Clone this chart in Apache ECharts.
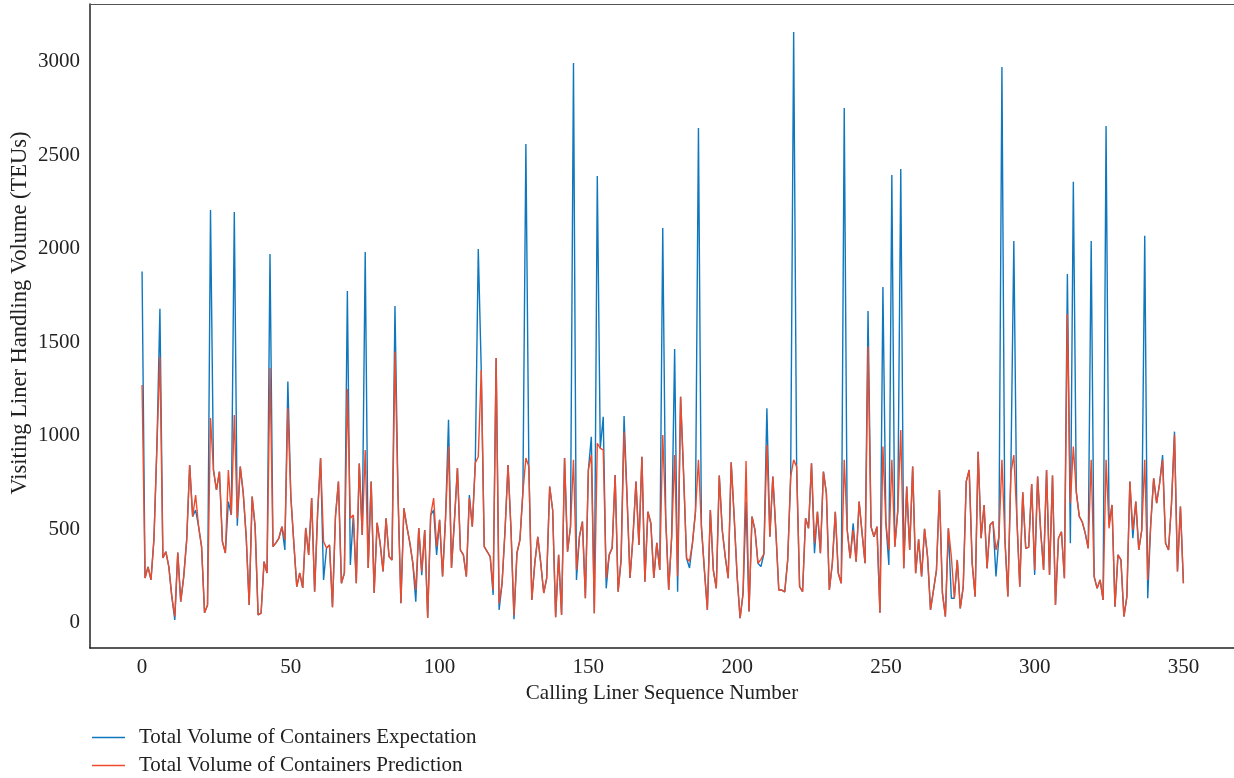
<!DOCTYPE html>
<html>
<head>
<meta charset="utf-8">
<script src="https://cdn.jsdelivr.net/npm/echarts/dist/echarts.min.js"></script>
<style>
html,body{margin:0;padding:0;background:#fff;}
#chart{width:1234px;height:778px;}
</style>
</head>
<body>
<div id="chart"></div>
<script>
var seriesNames = ['Total Volume of Containers Expectation', 'Total Volume of Containers Prediction'];
var xTicks = [0, 50, 100, 150, 200, 250, 300, 350];
var yTicks = [0, 500, 1000, 1500, 2000, 2500, 3000];

var expectation = [
1880,240,300,230,450,950,1680,347,381,300,
141,16,376,114,248,444,845,569,604,515,
408,55,96,2208,818,711,809,435,374,649,
577,2198,520,836,695,461,96,676,515,43,
52,328,267,1973,408,428,454,515,390,1291,
676,428,194,267,187,508,364,668,167,588,
882,230,401,417,84,569,756,212,267,1775,
310,577,212,853,470,1984,294,756,160,535,
428,275,560,355,337,1695,700,105,613,515,
428,320,114,508,255,497,27,577,604,364,
551,248,560,1086,294,551,829,390,364,248,
684,515,855,2000,1353,408,381,355,150,1417,
70,212,497,845,500,20,374,444,700,2561,
836,123,320,461,320,160,240,729,604,30,
364,43,882,381,515,2995,230,461,542,132,
818,996,52,2390,934,1103,185,364,401,791,
167,337,1107,676,240,461,756,417,889,221,
595,533,240,428,283,2112,560,176,461,1465,
167,1210,800,346,294,428,595,2647,515,283,
70,604,283,185,788,497,355,239,859,569,
248,25,159,649,61,569,497,319,301,370,
1148,461,783,497,176,176,166,337,783,3160,
836,194,167,560,506,854,373,595,373,809,
694,176,319,595,266,212,2754,497,346,533,
328,649,480,319,1668,515,461,515,55,1797,
533,310,2396,408,600,2428,292,729,390,836,
266,447,248,503,355,70,176,283,711,159,
34,506,132,132,337,78,194,756,818,319,
141,916,453,631,292,524,542,248,461,2973,
450,141,800,2043,569,194,699,399,406,743,
257,783,497,283,818,257,788,96,453,488,
239,1866,426,2360,700,570,540,480,399,2043,
248,185,230,123,2658,530,631,87,364,337,
34,141,756,453,649,390,497,2070,132,524,
774,640,747,898,426,390,640,1023,275,622,
212
];

var prediction = [
1273,240,300,230,450,950,1424,347,381,300,
141,35,376,114,248,444,845,569,684,515,
408,55,96,1096,818,711,809,435,374,818,
577,1112,560,836,695,461,96,676,515,43,
52,328,267,1363,408,428,454,515,444,1148,
676,428,194,267,187,508,364,668,167,588,
882,435,401,417,84,569,756,212,267,1251,
560,577,212,853,470,925,294,756,160,535,
428,275,560,355,337,1451,700,105,613,515,
428,320,176,508,275,497,27,577,668,408,
551,248,560,943,294,551,829,390,364,248,
668,515,855,889,1353,408,381,355,176,1417,
105,212,497,845,500,40,374,444,700,882,
836,123,320,461,320,160,240,729,604,30,
364,43,882,381,515,872,283,461,542,132,
818,898,52,961,934,925,240,364,401,791,
167,337,1023,676,240,461,756,417,889,221,
595,533,240,428,283,1005,560,176,461,898,
248,1210,800,346,330,428,595,872,515,283,
70,604,283,185,788,497,355,239,859,569,
248,25,159,866,61,569,497,319,340,370,
952,461,783,497,176,176,166,337,783,872,
836,194,167,560,506,854,426,595,373,809,
694,176,319,595,266,212,872,497,346,497,
328,649,480,319,1478,515,461,515,55,943,
533,390,872,408,600,1032,292,729,390,836,
266,447,248,503,355,70,176,283,711,159,
34,506,355,132,337,78,194,756,818,319,
141,916,453,631,292,524,542,390,461,872,
450,141,800,898,569,194,699,399,406,743,
283,783,497,283,818,257,788,96,453,488,
239,1652,640,943,700,570,540,480,399,872,
248,185,230,123,872,506,631,87,364,337,
34,141,756,497,649,390,497,872,230,524,
774,640,747,872,426,390,640,1005,275,622,
212
];

function toPairs(arr) {
  return arr.map(function (v, i) { return [i, v]; });
}

var FONT = 'Liberation Serif';
var TXT = '#222';
var BLUE = '#0f77bd';
var RED = '#ef4b2b';
var plain = function (v) { return String(v); };

function legendAt(name, top) {
  return {
    orient: 'vertical', left: 87, top: top, padding: 5,
    icon: 'rect', itemWidth: 33, itemHeight: 1.5,
    textStyle: {fontFamily: FONT, fontSize: 21, color: TXT, padding: [0, 0, 0, 9]},
    data: [name]
  };
}

var chart = echarts.init(document.getElementById('chart'), null, {renderer: 'canvas'});
chart.setOption({
  animation: false,
  backgroundColor: '#fff',
  grid: {left: 90, top: 4, right: 0, bottom: 130, outerBoundsMode: 'none', containLabel: false},
  legend: [legendAt(seriesNames[0], 722), legendAt(seriesNames[1], 750)],
  xAxis: [{
    type: 'value', min: -17.5, max: 367, position: 'bottom',
    name: 'Calling Liner Sequence Number', nameLocation: 'middle', nameGap: 35,
    nameTextStyle: {fontFamily: FONT, fontSize: 21, color: TXT},
    axisLine: {show: true, onZero: false, lineStyle: {color: '#222', width: 1.5}},
    axisTick: {show: false},
    splitLine: {show: false},
    axisLabel: {customValues: xTicks, formatter: plain, fontFamily: FONT, fontSize: 21, color: TXT, margin: 9}
  }, {
    type: 'value', min: -17.5, max: 367, position: 'top',
    axisLine: {show: true, onZero: false, lineStyle: {color: '#555', width: 1.2}},
    axisTick: {show: false}, axisLabel: {show: false}, splitLine: {show: false}
  }],
  yAxis: {
    type: 'value', min: -134, max: 3310,
    name: 'Visiting Liner Handling Volume (TEUs)', nameLocation: 'middle', nameGap: 58,
    nameMoveOverlap: false,
    nameTextStyle: {fontFamily: FONT, fontSize: 22.5, color: TXT, padding: [0, 0, 0, 26]},
    axisLine: {show: true, onZero: false, lineStyle: {color: '#222', width: 1.5}},
    axisTick: {show: false},
    splitLine: {show: false},
    axisLabel: {customValues: yTicks, formatter: plain, fontFamily: FONT, fontSize: 21, color: TXT, margin: 10}
  },
  series: [
    {
      name: seriesNames[0], type: 'line', data: toPairs(expectation), xAxisIndex: 0,
      showSymbol: false, symbol: 'none', color: BLUE,
      lineStyle: {color: BLUE, width: 1.4}, z: 2
    },
    {
      name: seriesNames[1], type: 'line', data: toPairs(prediction), xAxisIndex: 0,
      showSymbol: false, symbol: 'none', color: RED,
      lineStyle: {color: RED, width: 1.4}, z: 3
    }
  ]
});
</script>
</body>
</html>
